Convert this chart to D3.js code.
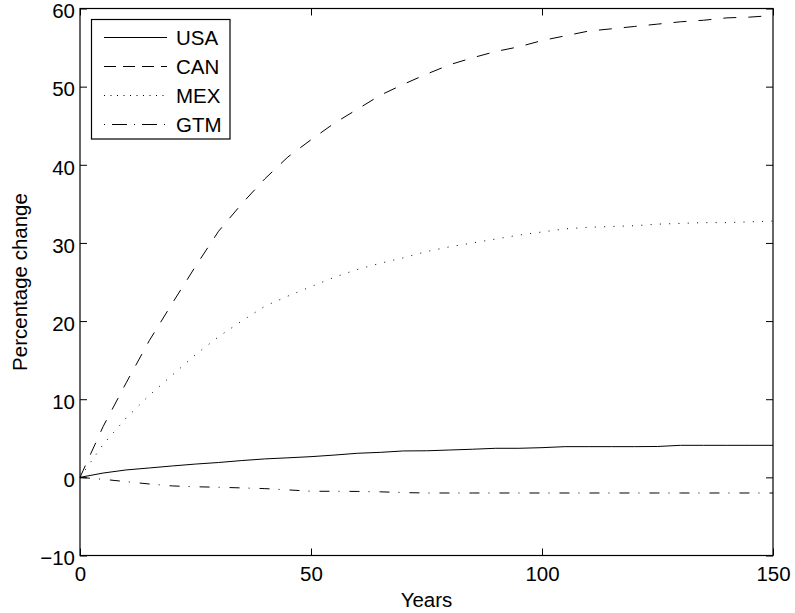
<!DOCTYPE html>
<html>
<head>
<meta charset="utf-8">
<script src="https://cdn.jsdelivr.net/npm/d3@7"></script>
<style>
  html, body { margin: 0; padding: 0; background: #fff; }
  svg { display: block; font-family: "Liberation Sans", Arial, Helvetica, sans-serif; }
</style>
</head>
<body>
<svg id="chart" width="795" height="613"></svg>
<script>
// ---- data ----
const years = [0,5,10,15,20,25,30,35,40,45,50,55,60,65,70,75,80,85,90,95,100,105,110,115,120,125,130,135,140,145,150];
const usa = [0,0.55,0.95,1.2,1.46,1.7,1.9,2.15,2.36,2.5,2.65,2.85,3.08,3.2,3.38,3.4,3.5,3.6,3.72,3.72,3.8,3.93,3.93,3.93,3.93,3.95,4.1,4.1,4.1,4.1,4.1];
const can = [0,6.5,12.1,17.5,22.3,27,31.5,35,38.2,41,43.2,45.3,47.1,48.9,50.3,51.6,52.8,53.7,54.5,55.1,55.9,56.5,57.1,57.4,57.7,58.0,58.3,58.5,58.8,58.9,59.1];
const mex = [0,4.2,7.6,10.5,13.1,15.7,18.0,20.0,21.9,23.2,24.4,25.6,26.6,27.4,28.1,28.9,29.5,30.0,30.5,31.0,31.4,31.8,32.0,32.1,32.2,32.4,32.5,32.6,32.6,32.7,32.8];
const gtm = [0,-0.25,-0.55,-0.85,-1.1,-1.2,-1.27,-1.35,-1.44,-1.6,-1.78,-1.78,-1.8,-1.85,-1.95,-2,-2,-2,-2,-2,-2,-2,-2,-2,-2,-2,-2,-2,-2,-2,-2];
const seriesNames = ["USA","CAN","MEX","GTM"];
const xTicks = [0,50,100,150];
const yTicks = [-10,0,10,20,30,40,50,60];
const xLabel = "Years";
const yLabel = "Percentage change";

(function () {
// ---- layout ----
const pLeft = 80, pRight = 773, pTop = 8.5, pBottom = 555.5;
const fontSize = 20.5;
const svg = d3.select("#chart");

const x = d3.scaleLinear().domain([0,150]).range([pLeft, pRight]);
const y = d3.scaleLinear().domain([-10,60]).range([pBottom, pTop]);

const seriesData = [usa, can, mex, gtm];
const dashes = [null, "13,12", "1,8.3", "10,9,1,10"];
const legendDashes = [null, "12,7", "1,5.5", "1,7,15,7"];

// plot lines
const line = d3.line().x((d,i) => x(years[i])).y(d => y(d));
seriesData.forEach((s, k) => {
  svg.append("path")
    .datum(s)
    .attr("d", line)
    .attr("fill", "none")
    .attr("stroke", "#000")
    .attr("stroke-width", 1)
    .attr("stroke-dasharray", dashes[k]);
});

// axes
function styleAxis(g) {
  g.select(".domain").remove();
  g.selectAll(".tick line").attr("stroke", "#000").attr("stroke-width", 1);
  g.selectAll("text").attr("fill", "#000").attr("font-size", fontSize)
    .attr("font-family", "Liberation Sans, Arial, Helvetica, sans-serif");
}
svg.append("g").attr("transform", `translate(0,${pBottom})`)
  .call(d3.axisBottom(x).tickValues(xTicks).tickSizeInner(-7).tickSizeOuter(0).tickPadding(11).tickFormat(d3.format("d")))
  .call(styleAxis);
svg.append("g").attr("transform", `translate(0,${pTop})`)
  .call(d3.axisTop(x).tickValues(xTicks).tickSizeInner(-7).tickSizeOuter(0).tickFormat(""))
  .call(styleAxis);
svg.append("g").attr("transform", `translate(${pLeft},0)`)
  .call(d3.axisLeft(y).tickValues(yTicks).tickSizeInner(-7).tickSizeOuter(0).tickPadding(5)
    .tickFormat(d => d < 0 ? "\u2212" + Math.abs(d) : String(d)))
  .call(styleAxis)
  .selectAll("text").attr("dy", "0.45em");
svg.append("g").attr("transform", `translate(${pRight},0)`)
  .call(d3.axisRight(y).tickValues(yTicks).tickSizeInner(-7).tickSizeOuter(0).tickFormat(""))
  .call(styleAxis);

// frame
svg.append("rect")
  .attr("x", pLeft).attr("y", pTop)
  .attr("width", pRight - pLeft).attr("height", pBottom - pTop)
  .attr("fill", "none").attr("stroke", "#000").attr("stroke-width", 1.2);

// axis labels
svg.append("text")
  .attr("x", (pLeft + pRight) / 2).attr("y", 607)
  .attr("text-anchor", "middle").attr("font-size", fontSize)
  .text(xLabel);
svg.append("text")
  .attr("transform", `translate(27,${(pTop + pBottom) / 2}) rotate(-90)`)
  .attr("text-anchor", "middle").attr("font-size", fontSize)
  .text(yLabel);

// legend
const lg = svg.append("g");
lg.append("rect")
  .attr("x", 91.5).attr("y", 19.5).attr("width", 138.5).attr("height", 119.5)
  .attr("fill", "#fff").attr("stroke", "#000").attr("stroke-width", 1.2);
seriesNames.forEach((name, k) => {
  const cy = 38 + k * 29;
  lg.append("line")
    .attr("x1", 104).attr("x2", 167).attr("y1", cy - 0.5).attr("y2", cy - 0.5)
    .attr("stroke", "#000").attr("stroke-width", 1)
    .attr("stroke-dasharray", legendDashes[k]);
  lg.append("text")
    .attr("x", 176).attr("y", cy).attr("dy", "0.36em")
    .attr("font-size", fontSize)
    .text(name);
});
})();
</script>
</body>
</html>
